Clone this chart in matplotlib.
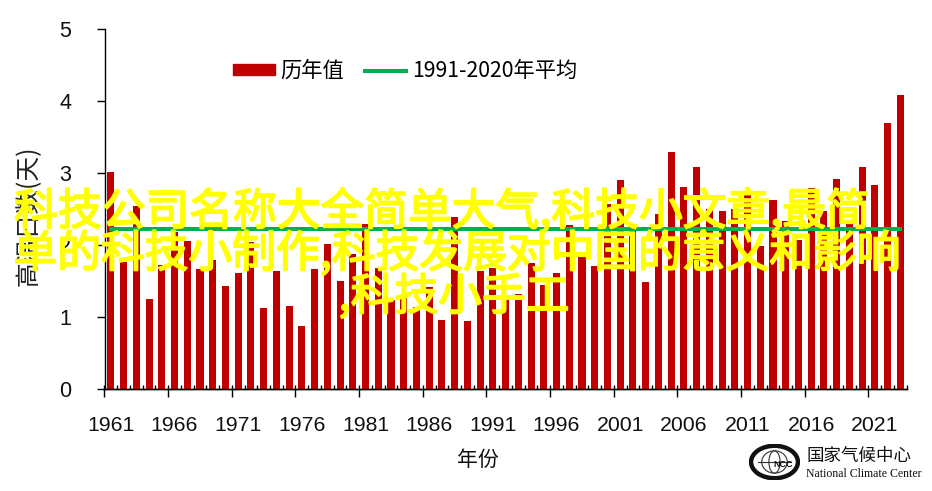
import numpy as np
import matplotlib
matplotlib.use('Agg')
import matplotlib.pyplot as plt
import matplotlib.patheffects as pe
from matplotlib.patches import Patch, Ellipse
from matplotlib.lines import Line2D

CJK = ['Noto Sans CJK SC', 'DejaVu Sans']
plt.rcParams['font.family'] = ['Liberation Sans', 'Noto Sans CJK SC', 'DejaVu Sans']

years = list(range(1961, 2024))
annual = [3.02, 1.77, 2.55, 1.25, 1.73, 2.19, 2.06, 1.67, 1.79, 1.43,
          1.62, 2.05, 1.13, 1.64, 1.16, 0.88, 1.67, 2.02, 1.50, 1.88,
          2.30, 1.68, 1.24, 1.27, 1.15, 1.42, 0.96, 2.39, 0.95, 1.64,
          1.69, 1.24, 1.32, 1.75, 1.45, 1.62, 2.28, 1.84, 1.71, 2.58,
          2.91, 2.28, 1.49, 2.44, 3.30, 2.81, 3.09, 2.50, 2.48, 2.50,
          2.72, 1.99, 2.63, 2.34, 2.07, 2.80, 2.48, 2.92, 2.30, 3.09,
          2.84, 3.70, 4.09]
normal = [2.23] * len(years)
y_ticks = [0, 1, 2, 3, 4, 5]
label_years = years[::5]
legend_labels = ['历年值', '1991-2020年平均']
overlay_lines = ['科技公司名称大全简单大气,科技小文章,最简',
                 '单的科技小制作,科技发展对中国的意义和影响',
                 ',科技小手工']

W, H = 932, 491
fig = plt.figure(figsize=(W / 100, H / 100), dpi=100)
ax = fig.add_axes([104.5 / W, 1 - 389.3 / H, (906.7 - 104.5) / W, (389.3 - 29.5) / H])

ax.bar(years, annual, width=0.55, color='#C00000', zorder=2)
ax.plot(years, normal, color='#00B050', lw=2.9, solid_capstyle='projecting', zorder=3)

ax.set_xlim(1960.5, 2023.5)
ax.set_ylim(0, 5)
for s in ('top', 'right'):
    ax.spines[s].set_visible(False)
for s in ('left', 'bottom'):
    ax.spines[s].set_linewidth(1.0)

ax.set_yticks(y_ticks)
ax.tick_params(axis='y', length=6, width=1, labelsize=15.5, pad=18, labelcolor='#111111')
ax.set_xticks(label_years)
ax.tick_params(axis='x', which='major', length=0, labelsize=15.3, pad=19.5, labelcolor='#111111')
ax.set_xticks(np.arange(1960.5, 2024), minor=True)
ax.tick_params(axis='x', which='minor', direction='in', length=3, width=1)
sec = ax.secondary_xaxis('bottom')
sec.set_xticks(np.arange(1960.5, 2024, 5))
sec.set_xticklabels([])
sec.tick_params(length=6, width=1)
sec.spines['bottom'].set_linewidth(1.0)

fig.text(28.5 / W, 1 - 216 / H, '高温日数(天)', rotation=90, ha='center', va='center',
         fontsize=17.8, family=CJK, color='#222222')
fig.text(477.5 / W, 1 - 460 / H, '年份', ha='center', va='center', fontsize=15, family=CJK,
         color='#111111')

handles = [Patch(color='#C00000'), Line2D([], [], color='#00B050', lw=2.9)]
leg = fig.legend(handles, legend_labels, ncol=2, frameon=False,
                 loc='center', bbox_to_anchor=(405 / W, 1 - 71 / H),
                 prop={'family': CJK, 'size': 15.3}, handlelength=1.95,
                 handleheight=0.4, columnspacing=1.0, handletextpad=0.25)

# logo
lax = fig.add_axes([749 / W, 1 - 480 / H, 51 / W, 36 / H])
lax.set_xlim(0, 1); lax.set_ylim(0, 1); lax.axis('off')
lax.add_patch(Ellipse((0.5, 0.5), 0.92, 0.9, fc='white', ec='#111111', lw=3.2))
lax.add_patch(Ellipse((0.5, 0.5), 0.5, 0.62, fc='none', ec='#333333', lw=0.8))
lax.add_patch(Ellipse((0.5, 0.5), 0.22, 0.62, fc='none', ec='#333333', lw=0.8))
lax.plot([0.18, 0.82], [0.5, 0.5], color='#333333', lw=0.8)
lax.text(0.66, 0.42, 'NCC', fontsize=6.5, weight='bold', ha='center', va='center', color='#111111')
fig.text(807 / W, 1 - 456 / H, '国家气候中心', fontsize=12.6, family=['Noto Sans CJK SC'],
         ha='left', va='center', color='#111111')
fig.text(806 / W, 1 - 474 / H, 'National Climate Center', fontsize=8.5, family=['Liberation Serif'],
         ha='left', va='center', color='#111111')

for txt, cx, cy in zip(overlay_lines, [442, 457, 454], [212, 254, 297]):
    t = fig.text(cx / W, 1 - cy / H, txt, color='#FFFF00', fontsize=31.5, family=CJK,
                 ha='center', va='center', zorder=10)
    t.set_path_effects([pe.withStroke(linewidth=1.3, foreground='#FFFF00')])

fig.savefig('out.png', dpi=100)
